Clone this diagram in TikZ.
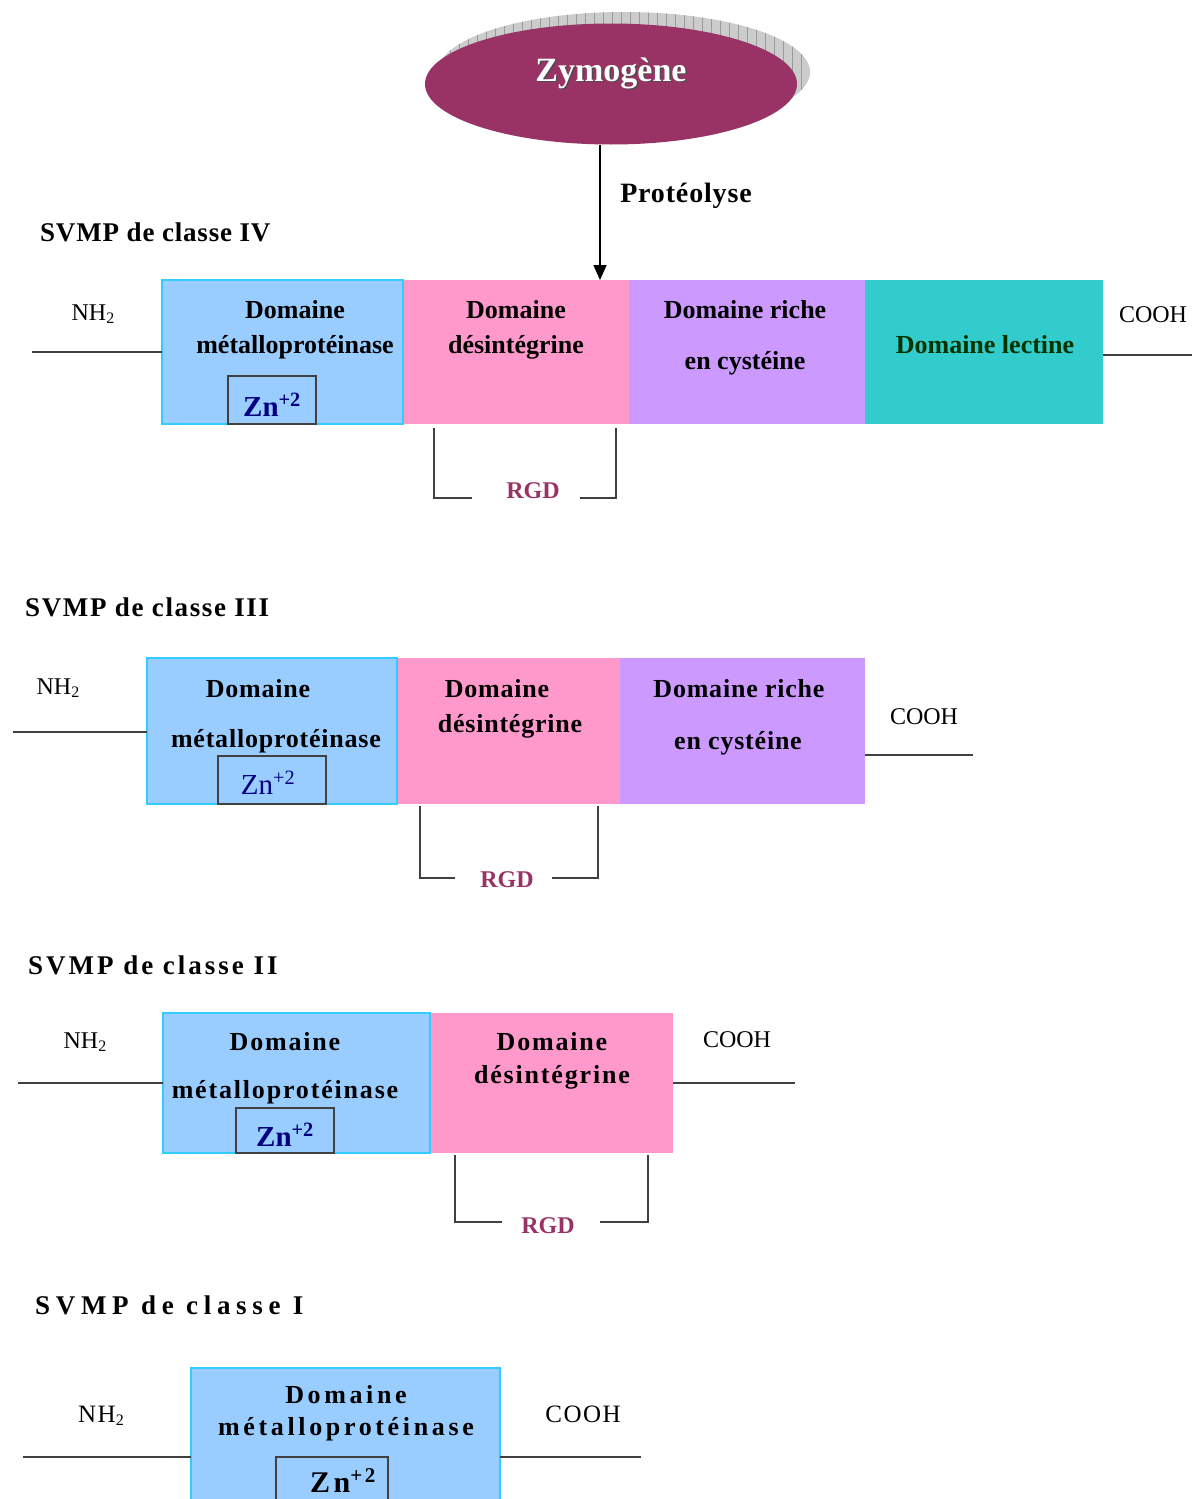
\documentclass[tikz,border=0pt]{standalone}
\usepackage{fontspec}
\setmainfont{Liberation Serif}
\usetikzlibrary{shapes.geometric,arrows.meta}
\definecolor{mblue}{HTML}{99CCFF}
\definecolor{mcyan}{HTML}{33CCFF}
\definecolor{mpink}{HTML}{FF99CC}
\definecolor{mpurple}{HTML}{CC99FF}
\definecolor{mteal}{HTML}{33CCCC}
\definecolor{mplum}{HTML}{993366}
\definecolor{mgreen}{HTML}{003300}
\definecolor{mnavy}{HTML}{000080}
\definecolor{mline}{HTML}{404040}
\definecolor{mshadow}{HTML}{CCCCCC}
\definecolor{mgrid}{HTML}{9A9A9A}
\newcommand\lsp[1]{\addfontfeature{LetterSpace=#1}}
\newcommand\subtwo{\raisebox{-0.3ex}{\fontsize{16}{16}\selectfont 2}}
\tikzset{
  domain/.style 2 args={anchor=north west, minimum width=#1, minimum height=#2, inner sep=0pt, outer sep=0pt},
  znbox/.style 2 args={anchor=north west, minimum width=#1, minimum height=#2, inner sep=0pt, outer sep=0pt, draw=mline, line width=1.8pt},
  dom/.style={font=\bfseries\fontsize{26}{30}\selectfont\lsp{#1}, inner sep=0pt, text height=18pt, text depth=0pt},
  dom/.default=0,
  title/.style={font=\bfseries\fontsize{27}{30}\selectfont\lsp{#1}, inner sep=0pt, anchor=west, text height=18pt, text depth=0pt},
  term/.style={font=\fontsize{24}{28}\selectfont, inner sep=0pt, text height=16pt, text depth=0pt},
  zn/.style={font=\bfseries\fontsize{29}{30}\selectfont, text=mnavy, inner sep=0pt, text height=20pt, text depth=0pt},
  rgd/.style={font=\bfseries\fontsize{24}{28}\selectfont, text=mplum, inner sep=0pt, text height=16pt, text depth=0pt},
  chain/.style={draw=mline, line width=2pt},
}
\begin{document}
\begin{tikzpicture}[x=1pt,y=-1pt]
\useasboundingbox (0,0) rectangle (1192,1499);
\clip (0,0) rectangle (1192,1499);

% ---------- Zymogene ----------
\begin{scope}
  \clip (624,72) ellipse [x radius=186, y radius=60];
  \fill[mshadow] (430,0) rectangle (820,140);
  \draw[mgrid, line width=0.7pt, step=9] (430,0) grid (820,140);
\end{scope}
\node[ellipse, fill=mplum, minimum width=372, minimum height=121, inner sep=0pt] (zym) at (611,84) {};
\node[font=\bfseries\fontsize{34}{36}\selectfont, text=black!70, inner sep=0pt] (zymsh) at (612.5,74.5) {Zymogène};
\node[font=\bfseries\fontsize{34}{36}\selectfont, text=white, inner sep=0pt] (zymt) at (611,73) {Zymogène};
\node[font=\bfseries\fontsize{28}{30}\selectfont\lsp{3}, inner sep=0pt] (prot) at (686,196) {Protéolyse};

% ---------- Class IV ----------
\node[title=3] (t4) at (40,232) {SVMP de classe IV};
\node[domain={226}{144}, fill=mpink] (b4d) at (403,280) {};
\node[domain={236}{144}, fill=mpurple] (b4c) at (629,280) {};
\node[domain={238}{144}, fill=mteal] (b4l) at (865,280) {};
\node[domain={241}{144}, fill=mblue, draw=mcyan, line width=2pt] (b4m) at (162,280) {};
\node[znbox={88}{48}] (z4) at (228,376) {};
\coordinate (ax) at (600,0);
\draw[black, line width=1.6pt, -{Triangle[length=15pt,width=13pt]}] (zym.south -| ax) -- (b4d.north -| ax);

\node[term] (nh4) at (93,312) {NH\subtwo};
\node[term] (co4) at (1153,314) {COOH};
\coordinate (l4) at (32,352);
\coordinate (r4) at (1192,355);
\draw[chain] (l4) -- (l4 -| b4m.west);
\draw[chain] (r4 -| b4l.east) -- (r4);

\node[dom] (d4a) at (295,309) {Domaine};
\node[dom] (d4b) at (295,344) {métalloprotéinase};
\node[zn] (zn4) at (272,406) {Zn\textsuperscript{+2}};
\node[dom] (d4c) at (516,309) {Domaine};
\node[dom] (d4d) at (516,344) {désintégrine};
\node[dom] (d4e) at (745,309) {Domaine riche};
\node[dom] (d4f) at (745,360) {en cystéine};
\node[dom, text=mgreen] (d4g) at (985,344) {Domaine lectine};

\node[rgd] (rgd4) at (533,490) {RGD};
\draw[chain] (434,428) -- (434,498) -- (472,498);
\draw[chain] (580,498) -- (616,498) -- (616,428);

% ---------- Class III ----------
\node[title=6] (t3) at (25,607) {SVMP de classe III};
\node[domain={223}{146}, fill=mpink] (b3d) at (397,658) {};
\node[domain={245}{146}, fill=mpurple] (b3c) at (620,658) {};
\node[domain={250}{146}, fill=mblue, draw=mcyan, line width=2pt] (b3m) at (147,658) {};
\node[znbox={108}{48}] (z3) at (218,756) {};

\node[term] (nh3) at (58,686) {NH\subtwo};
\node[term] (co3) at (924,716) {COOH};
\coordinate (l3) at (13,732);
\coordinate (r3) at (973,755);
\draw[chain] (l3) -- (l3 -| b3m.west);
\draw[chain] (r3 -| b3c.east) -- (r3);

\node[dom=3] (d3a) at (258,688) {Domaine};
\node[dom=3] (d3b) at (276,738) {métalloprotéinase};
\node[zn, font=\mdseries\fontsize{29}{30}\selectfont] (zn3) at (268,784) {Zn\textsuperscript{+2}};
\node[dom=3] (d3c) at (497,688) {Domaine};
\node[dom=3] (d3d) at (510,723) {désintégrine};
\node[dom=3] (d3e) at (739,688) {Domaine riche};
\node[dom=3] (d3f) at (738,740) {en cystéine};

\node[rgd] (rgd3) at (507,879) {RGD};
\draw[chain] (420,806) -- (420,878) -- (455,878);
\draw[chain] (552,878) -- (598,878) -- (598,806);

% ---------- Class II ----------
\node[title=11] (t2) at (28,965) {SVMP de classe II};
\node[domain={243}{140}, fill=mpink] (b2d) at (430,1013) {};
\node[domain={267}{140}, fill=mblue, draw=mcyan, line width=2pt] (b2m) at (163,1013) {};
\node[znbox={98}{45}] (z2) at (236,1108) {};

\node[term] (nh2) at (85,1040) {NH\subtwo};
\node[term] (co2) at (737,1039) {COOH};
\coordinate (l2) at (18,1083);
\coordinate (r2) at (795,1083);
\draw[chain] (l2) -- (l2 -| b2m.west);
\draw[chain] (r2 -| b2d.east) -- (r2);

\node[dom=7] (d2a) at (285,1041) {Domaine};
\node[dom=7] (d2b) at (285,1089) {métalloprotéinase};
\node[zn] (zn2) at (285,1136) {Zn\textsuperscript{+2}};
\node[dom=7] (d2c) at (552,1041) {Domaine};
\node[dom=7] (d2d) at (552,1074) {désintégrine};

\node[rgd] (rgd2) at (548,1225) {RGD};
\draw[chain] (455,1155) -- (455,1222) -- (502,1222);
\draw[chain] (600,1222) -- (648,1222) -- (648,1155);

% ---------- Class I ----------
\node[title=21] (t1) at (35,1305) {SVMP de classe I};
\node[domain={309}{145}, fill=mblue, draw=mcyan, line width=2pt] (b1m) at (191,1368) {};
\node[znbox={112}{50}] (z1) at (276,1457) {};

\node[term, font=\fontsize{25}{28}\selectfont\lsp{6}] (nh1) at (101,1414) {NH\subtwo};
\node[term, font=\fontsize{25}{28}\selectfont\lsp{6}] (co1) at (583,1414) {COOH};
\coordinate (l1) at (23,1457);
\coordinate (r1) at (641,1457);
\draw[chain] (l1) -- (l1 -| b1m.west);
\draw[chain] (r1 -| b1m.east) -- (r1);

\node[dom=14] (d1a) at (346,1394) {Domaine};
\node[dom=14] (d1b) at (346,1426) {métalloprotéinase};
\node[zn, font=\bfseries\fontsize{30}{32}\selectfont\lsp{12}, text=black] (zn1) at (343,1482) {Zn\textsuperscript{+2}};
\end{tikzpicture}
\end{document}
